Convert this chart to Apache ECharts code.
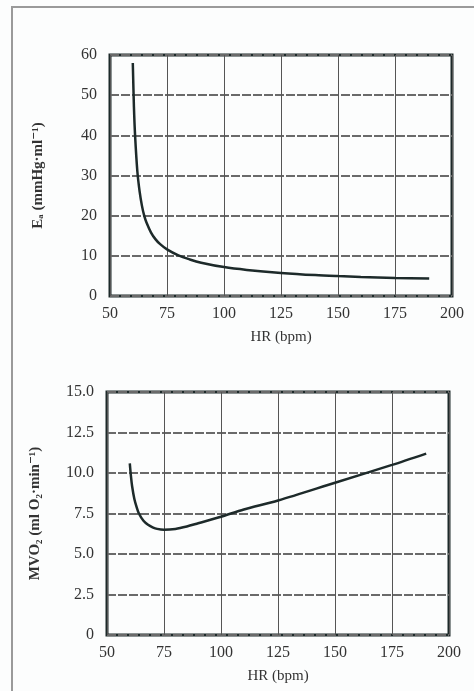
<html>
<head>
<script src="https://cdn.jsdelivr.net/npm/echarts@6/dist/echarts.min.js"></script>
<style>
  body { margin: 0; background: #fcfdfd; }
  #container { width: 474px; height: 691px; }
</style>
</head>
<body>
<div id="container"></div>
<script>
  // top panel: afterload elastance vs heart rate
  const hrTop = [60, 60.5, 61, 62, 63, 64, 65, 66, 68, 70, 72, 75, 80, 85, 90, 100, 110, 125, 140, 150, 160, 175, 190];
  const eaVals = [58, 47, 40, 31, 26, 22.5, 20, 18.3, 15.8, 14.1, 12.9, 11.6, 10.1, 9.1, 8.3, 7.2, 6.5, 5.75, 5.2, 4.95, 4.75, 4.5, 4.35];

  // bottom panel: myocardial oxygen consumption vs heart rate
  const hrBottom = [60, 60.5, 61, 62, 63, 64, 66, 68, 70, 72, 75, 80, 85, 90, 100, 110, 125, 150, 175, 190];
  const mvo2Vals = [10.6, 9.8, 9.2, 8.4, 7.9, 7.5, 7.05, 6.8, 6.65, 6.55, 6.5, 6.55, 6.7, 6.9, 7.3, 7.75, 8.3, 9.4, 10.5, 11.2];

  const xTicks = [50, 200, 25];
  const topTicks = [0, 60, 10];
  const bottomTicks = [0, 15, 2.5];

  function pairs(xs, ys) {
    let out = [];
    xs.forEach((x, i) => out.push([x, ys[i]]));
    return out;
  }

  const serif = '"Liberation Serif", "DejaVu Serif", serif';
  const ink = '#1d2a2a';

  function xAxis(gridIndex) {
    return {
      type: 'value', gridIndex,
      min: xTicks[0], max: xTicks[1], interval: xTicks[2],
      name: 'HR (bpm)', nameLocation: 'middle', nameGap: 34,
      nameTextStyle: { fontFamily: serif, fontSize: 15, color: '#333' },
      axisLine: { show: false }, axisTick: { show: false },
      axisLabel: { fontFamily: serif, fontSize: 16, color: '#333', margin: 10 },
      splitLine: { show: true, lineStyle: { color: '#555', width: 1 } }
    };
  }

  function yAxis(gridIndex, ticks, name, fmt) {
    return {
      type: 'value', gridIndex,
      min: ticks[0], max: ticks[1], interval: ticks[2],
      name, nameLocation: 'middle', nameGap: 64, nameRotate: 90,
      nameTextStyle: { fontFamily: serif, fontSize: 15, fontWeight: 'bold', color: '#333' },
      axisLine: { show: false }, axisTick: { show: false },
      axisLabel: { fontFamily: serif, fontSize: 16, color: '#333', margin: 13, formatter: fmt },
      splitLine: { show: true, lineStyle: { color: '#6a6a6a', width: 2, type: [9, 2] } }
    };
  }

  let mychart = echarts.init(document.getElementById('container'));

  var option = {
    backgroundColor: '#fcfdfd',
    animation: false,
    graphic: [{
      type: 'rect',
      shape: { x: 12, y: 7, width: 480, height: 700 },
      style: { fill: 'none', stroke: '#9a9a9a', lineWidth: 2 }
    }],
    grid: [
      { left: 110, top: 55, width: 342, height: 241, show: true, borderWidth: 3, borderColor: ink, backgroundColor: 'transparent' },
      { left: 107, top: 392, width: 342, height: 243, show: true, borderWidth: 3, borderColor: ink, backgroundColor: 'transparent' }
    ],
    xAxis: [xAxis(0), xAxis(1)],
    yAxis: [
      yAxis(0, topTicks, 'Eₐ (mmHg·ml⁻¹)', v => String(v)),
      yAxis(1, bottomTicks, 'MVO₂ (ml O₂·min⁻¹)', v => v === 0 ? '0' : v.toFixed(1))
    ],
    series: [
      {
        type: 'line', xAxisIndex: 0, yAxisIndex: 0,
        data: pairs(hrTop, eaVals), smooth: 0.3, showSymbol: false,
        lineStyle: { color: ink, width: 2.5 }
      },
      {
        type: 'line', xAxisIndex: 1, yAxisIndex: 1,
        data: pairs(hrBottom, mvo2Vals), smooth: 0.3, showSymbol: false,
        lineStyle: { color: ink, width: 2.5 }
      }
    ]
  };

  mychart.setOption(option);
</script>
</body>
</html>
